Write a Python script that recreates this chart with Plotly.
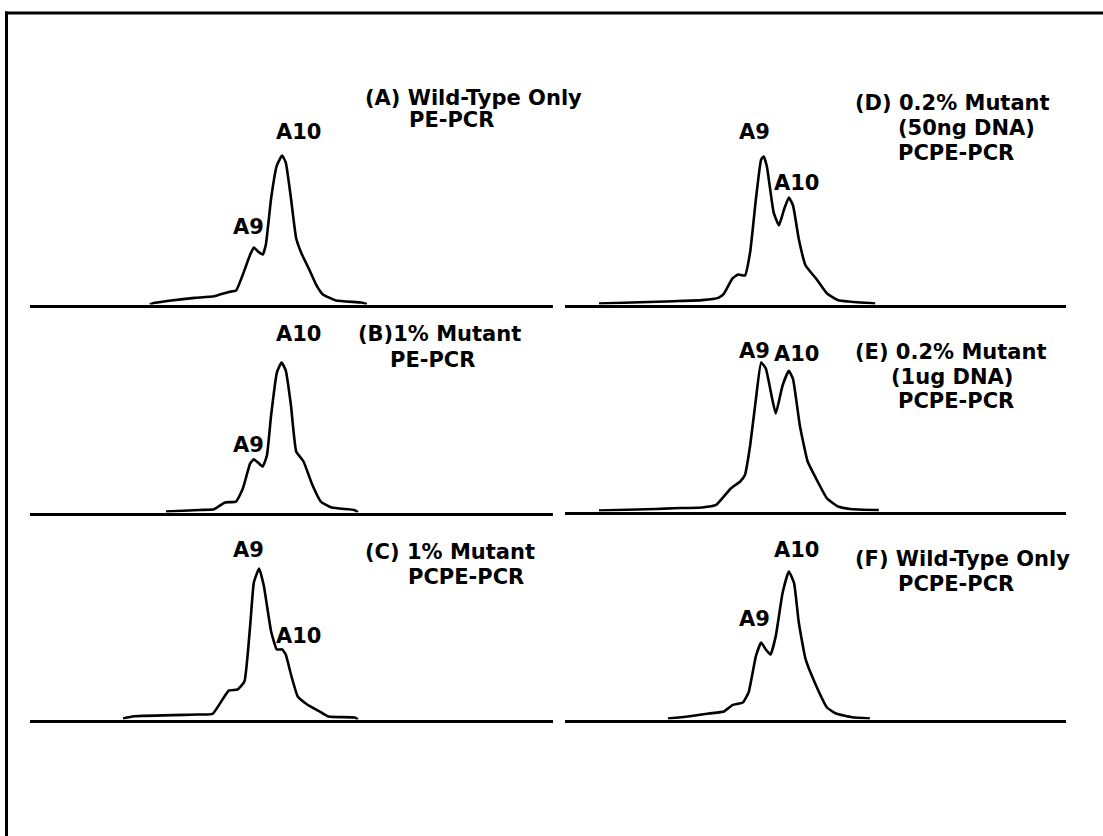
import plotly.graph_objects as go

# ---------------------------------------------------------------------------
# Electropherogram traces: scan position (migration units) vs. signal (RFU, %)
# ---------------------------------------------------------------------------
a_pos = [22.9, 23.9, 27.0, 31.5, 35.2, 38.0, 39.4, 40.7, 42.1, 42.8, 43.6, 44.5, 45.1,
         46.1, 47.2, 48.2, 48.9, 49.9, 50.9, 52.0, 53.3, 54.7, 56.0, 58.5, 63.3, 64.4]
a_sig = [0.0, 1.1, 2.7, 4.4, 5.5, 8.4, 9.3, 20.0, 33.3, 38.0, 35.3, 33.3, 40.0,
         70.7, 92.7, 99.3, 94.7, 70.7, 44.0, 33.3, 24.0, 13.3, 6.7, 2.7, 1.3, 0.3]

b_pos = [26.0, 32.5, 35.2, 37.3, 39.4, 40.7, 42.1, 42.8, 43.6, 44.5, 45.3, 46.1,
         47.2, 48.1, 48.9, 49.9, 50.9, 52.3, 54.0, 55.6, 57.7, 62.0, 62.7]
b_sig = [0.7, 1.7, 2.2, 6.7, 7.3, 16.0, 32.7, 35.5, 33.3, 30.7, 38.0, 64.7,
         93.3, 100.0, 94.7, 71.3, 40.7, 34.0, 18.3, 7.3, 3.3, 1.7, 0.3]

c_pos = [17.8, 19.9, 32.1, 34.9, 38.0, 39.7, 41.0, 42.1, 42.8, 43.8, 44.7,
         46.1, 47.2, 48.2, 48.9, 49.9, 51.2, 53.0, 55.4, 57.1, 62.1, 62.7]
c_sig = [0.7, 2.2, 3.3, 3.7, 19.3, 20.0, 25.3, 62.7, 91.3, 100.7, 89.3,
         58.7, 46.7, 46.7, 43.3, 30.0, 15.3, 10.0, 5.3, 2.0, 1.3, 0.0]

d_pos = [6.5, 20.8, 26.2, 29.3, 30.4, 32.0, 33.1, 34.4, 35.4, 36.5, 37.5, 38.0, 38.6,
         39.9, 40.9, 41.9, 42.8, 43.6, 44.7, 46.0, 48.0, 50.1, 52.2, 54.2, 59.3]
d_sig = [0.7, 2.2, 2.9, 4.4, 7.3, 17.3, 20.0, 19.3, 34.9, 70.2, 96.7, 98.7, 92.0,
         61.3, 52.7, 63.6, 71.3, 66.0, 43.7, 26.0, 17.3, 7.3, 2.9, 2.0, 0.7]

e_pos = [6.5, 17.4, 20.8, 26.2, 28.9, 31.7, 33.5, 34.4, 35.4, 36.5, 37.5, 38.4,
         39.6, 40.3, 41.6, 42.8, 43.6, 44.9, 46.4, 48.0, 50.1, 52.2, 54.5, 60.0]
e_sig = [0.7, 1.7, 2.2, 2.7, 4.4, 15.3, 20.0, 24.3, 44.0, 74.9, 99.3, 95.3,
         75.3, 65.3, 84.0, 93.8, 88.3, 57.4, 33.3, 22.0, 8.7, 3.3, 1.7, 0.9]

f_pos = [19.7, 23.5, 27.5, 30.4, 32.0, 34.0, 35.1, 36.5, 37.5, 38.4, 39.3,
         40.3, 41.6, 42.8, 43.8, 44.7, 46.0, 48.0, 50.1, 51.8, 54.9, 58.3]
f_sig = [0.7, 2.0, 4.0, 5.3, 9.6, 11.3, 18.0, 42.3, 51.3, 46.7, 43.3,
         55.6, 84.3, 98.7, 90.9, 64.7, 40.2, 22.7, 8.0, 4.0, 1.5, 0.7]

# Panel captions (one entry per text line)
a_title = ["(A) Wild-Type Only", "PE-PCR"]
b_title = ["(B)1% Mutant", "PE-PCR"]
c_title = ["(C) 1% Mutant", "PCPE-PCR"]
d_title = ["(D) 0.2% Mutant", "(50ng DNA)", "PCPE-PCR"]
e_title = ["(E) 0.2% Mutant", "(1ug DNA)", "PCPE-PCR"]
f_title = ["(F) Wild-Type Only", "PCPE-PCR"]

# Peak labels: (allele, position, signal) in each panel's data units
a_peaks = [("A10", 51.4, 115.0), ("A9", 41.7, 52.0)]
b_peaks = [("A10", 51.4, 119.3), ("A9", 41.7, 44.7)]
c_peaks = [("A9", 41.8, 112.7), ("A10", 51.4, 56.0)]
d_peaks = [("A9", 36.3, 115.3), ("A10", 44.2, 80.7)]
e_peaks = [("A9", 36.3, 106.7), ("A10", 44.2, 105.3)]
f_peaks = [("A10", 44.2, 113.3), ("A9", 36.3, 66.7)]

# ---------------------------------------------------------------------------
# Layout geometry (pixels on the 1103 x 836 page)
# ---------------------------------------------------------------------------
W, H = 1103, 836
PX_PER_UNIT_X = 5.23
PX_PER_UNIT_Y = 1.5
Y_TOP = 125.0

def fx(px):
    return px / W

def fy(py):
    return 1.0 - py / H

# column x-extent, row baselines, caption line placement (left x, centre y)
panels = [
    dict(pos=a_pos, sig=a_sig, title=a_title, peaks=a_peaks, col=(30, 553), base=306,
         lines=[(363, 98), (407, 120)]),
    dict(pos=b_pos, sig=b_sig, title=b_title, peaks=b_peaks, col=(30, 553), base=514,
         lines=[(356, 334), (388, 360)]),
    dict(pos=c_pos, sig=c_sig, title=c_title, peaks=c_peaks, col=(30, 553), base=721,
         lines=[(363, 552), (406, 577)]),
    dict(pos=d_pos, sig=d_sig, title=d_title, peaks=d_peaks, col=(565, 1066), base=306,
         lines=[(853, 103), (896, 128), (896, 153)]),
    dict(pos=e_pos, sig=e_sig, title=e_title, peaks=e_peaks, col=(565, 1066), base=513,
         lines=[(853, 352), (889, 377), (896, 401)]),
    dict(pos=f_pos, sig=f_sig, title=f_title, peaks=f_peaks, col=(565, 1066), base=721,
         lines=[(853, 559), (896, 584)]),
]

FONT = dict(family="DejaVu Sans", size=21, color="black", weight="bold")

fig = go.Figure()
layout = dict(
    width=W, height=H, autosize=False,
    margin=dict(l=0, r=0, t=0, b=0, pad=0),
    paper_bgcolor="white", plot_bgcolor="rgba(0,0,0,0)",
    showlegend=False,
)
annotations = []

for i, p in enumerate(panels, start=1):
    xa = "x" if i == 1 else f"x{i}"
    ya = "y" if i == 1 else f"y{i}"
    x0, x1 = p["col"]
    # the x-axis line is drawn just outside the plot area: shift by half its width
    bottom = p["base"] - 1.5
    top = bottom - Y_TOP * PX_PER_UNIT_Y
    layout["xaxis" if i == 1 else f"xaxis{i}"] = dict(
        domain=[fx(x0), fx(x1)], range=[0, (x1 - x0) / PX_PER_UNIT_X],
        anchor=ya, showline=True, linecolor="black", linewidth=3,
        showgrid=False, zeroline=False, showticklabels=False, ticks="",
        fixedrange=True,
    )
    layout["yaxis" if i == 1 else f"yaxis{i}"] = dict(
        domain=[fy(bottom), fy(top)], range=[0, Y_TOP], anchor=xa,
        visible=False, fixedrange=True,
    )
    fig.add_trace(go.Scatter(
        x=p["pos"], y=p["sig"], xaxis=xa, yaxis=ya, mode="lines",
        line=dict(color="black", width=2.6, shape="spline", smoothing=0.4),
        hoverinfo="skip",
    ))
    for label, lx, ly in p["peaks"]:
        annotations.append(dict(
            text=label, x=lx, y=ly, xref=xa, yref=ya, showarrow=False,
            xanchor="center", yanchor="middle", font=FONT,
        ))
    for txt, (tx, ty) in zip(p["title"], p["lines"]):
        annotations.append(dict(
            text=txt, x=fx(tx), y=fy(ty), xref="paper", yref="paper",
            showarrow=False, xanchor="left", yanchor="middle", font=FONT,
        ))

layout["annotations"] = annotations
# frame: left and top edges of the figure border
layout["shapes"] = [
    dict(type="line", xref="paper", yref="paper", x0=fx(6.5), x1=fx(6.5),
         y0=fy(11.5), y1=fy(H + 5), line=dict(color="black", width=3)),
    dict(type="line", xref="paper", yref="paper", x0=fx(5), x1=fx(W + 5),
         y0=fy(13), y1=fy(13), line=dict(color="black", width=3)),
]
fig.update_layout(**layout)

fig.write_html("out.html", config=dict(displayModeBar=False, staticPlot=True))
